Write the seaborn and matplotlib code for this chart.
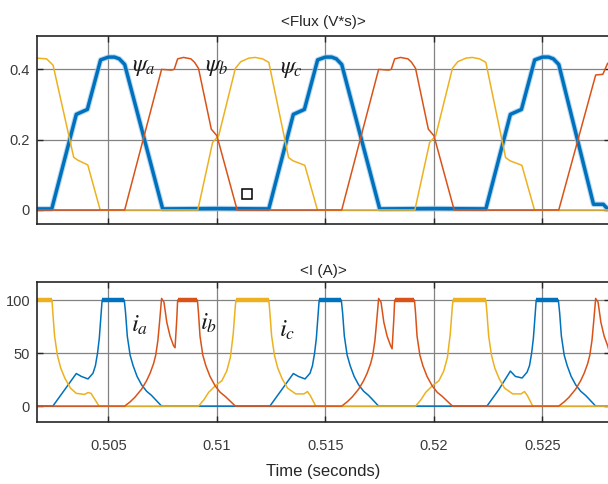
import numpy as np
import pandas as pd
import seaborn as sns
import matplotlib.pyplot as plt

# ---- flux (V*s) ----
psi_a_t = [0.50171, 0.50239, 0.50352, 0.50403, 0.50464, 0.50500, 0.50528, 0.50550, 0.50575, 0.50750,
           0.51000, 0.51239, 0.51352, 0.51403, 0.51464, 0.51500, 0.51528, 0.51550, 0.51575, 0.51750,
           0.52000, 0.52239, 0.52352, 0.52403, 0.52464, 0.52500, 0.52528, 0.52550, 0.52575, 0.52735,
           0.52780, 0.52800, 0.52830]
psi_a_v = [0.003, 0.003, 0.272, 0.286, 0.427, 0.435, 0.435, 0.430, 0.414, 0.003,
           0.004, 0.003, 0.272, 0.286, 0.427, 0.435, 0.435, 0.430, 0.414, 0.003,
           0.004, 0.003, 0.272, 0.286, 0.427, 0.435, 0.435, 0.430, 0.414, 0.016,
           0.016, 0.003, 0.003]

psi_c_t = [0.50171, 0.50215, 0.50245, 0.50340, 0.50358, 0.50405, 0.50462,
           0.50912, 0.50980, 0.51008, 0.51085, 0.51110, 0.51147, 0.51176, 0.51210, 0.51239,
           0.51330, 0.51350, 0.51405, 0.51463,
           0.51912, 0.51980, 0.52008, 0.52085, 0.52110, 0.52147, 0.52176, 0.52210, 0.52239,
           0.52330, 0.52350, 0.52405, 0.52463, 0.52830]
psi_c_v = [0.432, 0.430, 0.412, 0.150, 0.142, 0.128, 0.0,
           0.0, 0.192, 0.211, 0.403, 0.422, 0.432, 0.434, 0.430, 0.420,
           0.149, 0.140, 0.127, 0.0,
           0.0, 0.192, 0.211, 0.403, 0.422, 0.432, 0.434, 0.430, 0.420,
           0.149, 0.140, 0.127, 0.0, 0.0]

psi_b_t = [0.50171, 0.50575, 0.50745, 0.50790, 0.50803, 0.50819, 0.50846, 0.50880, 0.50897, 0.50915,
           0.50974, 0.51000, 0.51093,
           0.51575, 0.51745, 0.51790, 0.51803, 0.51819, 0.51846, 0.51880, 0.51897, 0.51915,
           0.51974, 0.52000, 0.52093,
           0.52575, 0.52745, 0.52778, 0.52800, 0.52830]
psi_b_v = [0.0, 0.0, 0.400, 0.398, 0.400, 0.430, 0.434, 0.430, 0.420, 0.403,
           0.230, 0.211, 0.0,
           0.0, 0.400, 0.398, 0.400, 0.430, 0.434, 0.430, 0.420, 0.403,
           0.230, 0.211, 0.0,
           0.0, 0.384, 0.386, 0.417, 0.430]

# ---- current (A) ----
i_a_t = [0.50171, 0.50244, 0.50298, 0.50352, 0.50375, 0.50406, 0.50429, 0.50440, 0.50450, 0.50458, 0.50466, 0.50471,
         0.50520, 0.50573, 0.50579, 0.50587, 0.50600, 0.50614, 0.50632, 0.50653, 0.50676, 0.50699, 0.50745,
         0.51244, 0.51298, 0.51352, 0.51375, 0.51406, 0.51429, 0.51440, 0.51450, 0.51458, 0.51466, 0.51471,
         0.51520, 0.51573, 0.51579, 0.51587, 0.51600, 0.51614, 0.51632, 0.51653, 0.51676, 0.51699, 0.51745,
         0.52244, 0.52298, 0.52352, 0.52375, 0.52406, 0.52429, 0.52440, 0.52450, 0.52458, 0.52466, 0.52471,
         0.52520, 0.52573, 0.52579, 0.52587, 0.52600, 0.52614, 0.52632, 0.52653, 0.52676, 0.52699, 0.52745,
         0.52830]
i_a_v = [0, 0, 15.3, 30.7, 28, 25.6, 31, 38, 50, 64, 86, 100,
         100, 100, 88, 66, 48, 38, 28, 20, 14, 10, 0,
         0, 15.3, 30.7, 28, 25.6, 31, 38, 50, 64, 86, 100,
         100, 100, 88, 66, 48, 38, 28, 20, 14, 10, 0,
         0, 15.3, 33, 28, 26.5, 32, 38, 50, 64, 86, 100,
         100, 100, 88, 66, 48, 38, 28, 20, 14, 10, 0,
         0]

i_b_t = [0.50171, 0.50575, 0.50600, 0.50622, 0.50653, 0.50676, 0.50692, 0.50708, 0.50718, 0.50728, 0.50736, 0.50745,
         0.50756, 0.50769, 0.50784, 0.50800, 0.50807, 0.50815, 0.50819, 0.50865, 0.50910, 0.50915, 0.50922,
         0.50935, 0.50949, 0.50968, 0.50992, 0.51015, 0.51039, 0.51085,
         0.51575, 0.51600, 0.51622, 0.51653, 0.51676, 0.51692, 0.51708, 0.51718, 0.51728, 0.51736, 0.51745,
         0.51756, 0.51769, 0.51784, 0.51800, 0.51807, 0.51815, 0.51819, 0.51865, 0.51910, 0.51915, 0.51922,
         0.51935, 0.51949, 0.51968, 0.51992, 0.52015, 0.52039, 0.52085,
         0.52575, 0.52600, 0.52622, 0.52653, 0.52676, 0.52692, 0.52708, 0.52718, 0.52728, 0.52736, 0.52745,
         0.52756, 0.52769, 0.52784, 0.52800, 0.52807, 0.52815]
i_b_v = [0, 0, 4, 8.3, 16, 24, 31, 40, 48, 62, 80, 101.5,
         98, 79, 66, 57, 55, 82, 100, 100, 100, 88, 66,
         48, 38, 28, 19, 13, 9, 0,
         0, 4, 8.3, 16, 24, 31, 40, 48, 62, 80, 101.5,
         98, 79, 66, 57, 54, 82, 100, 100, 100, 88, 66,
         48, 38, 28, 19, 13, 9, 0,
         0, 4, 8.3, 16, 24, 31, 40, 48, 62, 80, 101.5,
         98, 79, 66, 57, 52, 70]

i_c_t = [0.50171, 0.50205, 0.50240, 0.50244, 0.50252, 0.50265, 0.50280, 0.50300, 0.50325, 0.50352, 0.50390, 0.50406,
         0.50420, 0.50429, 0.50457,
         0.50915, 0.50940, 0.50962, 0.50992, 0.51023, 0.51045, 0.51062, 0.51075, 0.51085, 0.51088,
         0.51160, 0.51239, 0.51244, 0.51252, 0.51265, 0.51280, 0.51300, 0.51325, 0.51363, 0.51401, 0.51417,
         0.51430, 0.51455,
         0.51915, 0.51940, 0.51962, 0.51992, 0.52023, 0.52045, 0.52062, 0.52075, 0.52085, 0.52088,
         0.52160, 0.52239, 0.52244, 0.52252, 0.52265, 0.52280, 0.52300, 0.52325, 0.52363, 0.52401, 0.52417,
         0.52430, 0.52455,
         0.52830]
i_c_v = [100, 100, 100, 88, 66, 48, 36, 26, 17, 12, 11, 12.8,
         12, 9, 0,
         0, 6, 13, 19, 24, 33, 46, 68, 95, 100,
         100, 100, 88, 66, 48, 36, 26, 17, 11.5, 11.5, 13.7,
         10, 0,
         0, 6, 13, 19, 24, 33, 46, 68, 95, 100,
         100, 100, 88, 66, 48, 36, 26, 17, 11.5, 11.5, 13.7,
         10, 0,
         0]

x_ticks = [0.505, 0.51, 0.515, 0.52, 0.525]
x_tick_labels = ['0.505', '0.51', '0.515', '0.52', '0.525']
flux_ticks = [0, 0.2, 0.4]
flux_tick_labels = ['0', '0.2', '0.4']
cur_ticks = [0, 50, 100]
cur_tick_labels = ['0', '50', '100']

square_t = [0.51137]
square_v = [0.044]

BLUE = '#0072BD'
RED = '#D95319'
YELLOW = '#EDB120'

sns.set_theme(style='white')
plt.rcParams['font.family'] = ['Liberation Sans', 'DejaVu Sans']
plt.rcParams['mathtext.fontset'] = 'stix'

fig = plt.figure(figsize=(6.08, 4.84), dpi=100)
ax1 = fig.add_axes([37 / 608, 1 - 224 / 484, 573 / 608, 188 / 484])
ax2 = fig.add_axes([37 / 608, 1 - 422 / 484, 573 / 608, 140 / 484])


def style_axes(ax, yticks, ylabels, ylim, show_x):
    ax.set_xlim(0.50171, 0.52811)
    ax.set_ylim(*ylim)
    ax.set_xticks(x_ticks)
    ax.set_yticks(yticks)
    ax.set_yticklabels(ylabels)
    if show_x:
        ax.set_xticklabels(x_tick_labels)
    else:
        ax.set_xticklabels([])
    ax.grid(True, color='#828282', lw=0.9)
    ax.set_axisbelow(True)
    for s in ax.spines.values():
        s.set_color('#262626')
        s.set_linewidth(1.2)
        s.set_visible(True)
    ax.tick_params(direction='in', length=4, width=1, color='#262626',
                   labelsize=10.5, labelcolor='#3a3a3a', top=True, right=True,
                   left=True, bottom=True, pad=5)
    ax.tick_params(axis='x', pad=12)
    ax.set_xlabel('')
    ax.set_ylabel('')


# soft halo under the thick flux line
ax1.plot(psi_a_t, psi_a_v, color='#9cc8ec', lw=4.0, alpha=0.7)
flux = [(psi_a_t, psi_a_v, BLUE, 2.5), (psi_c_t, psi_c_v, YELLOW, 1.1), (psi_b_t, psi_b_v, RED, 1.1)]
for t, v, c, w in flux:
    sns.lineplot(x=t, y=v, ax=ax1, color=c, lw=w, estimator=None, sort=False)
ax1.plot(square_t, square_v, marker='s', ms=7, mfc='white', mec='black', mew=1.1, ls='none')

cur = [(i_a_t, i_a_v, BLUE), (i_c_t, i_c_v, YELLOW), (i_b_t, i_b_v, RED)]
for t, v, c in cur:
    sns.lineplot(x=t, y=v, ax=ax2, color=c, lw=1.1, estimator=None, sort=False)
    # noisy flat tops drawn as a thicker band
    vv = np.array(v, dtype=float)
    band = np.where(np.isclose(vv, 100), vv, np.nan)
    ax2.plot(t, band, color=c, lw=3.2, solid_capstyle='butt')

style_axes(ax1, flux_ticks, flux_tick_labels, (-0.04, 0.495), False)
style_axes(ax2, cur_ticks, cur_tick_labels, (-15, 117), True)

ax1.set_title('<Flux (V*s)>', fontsize=11, color='#262626', pad=7)
ax2.set_title('<I (A)>', fontsize=11, color='#262626', pad=5)
ax2.set_xlabel('Time (seconds)', fontsize=12, color='#262626', labelpad=8)

for txt, xt, yv in [(r'$\psi_a$', 0.50662, 0.408), (r'$\psi_b$', 0.51000, 0.408), (r'$\psi_c$', 0.51343, 0.402)]:
    ax1.text(xt, yv, txt, fontsize=17, color='#1a1a1a', ha='center', va='center')
for txt, xt, yv in [(r'$i_a$', 0.50644, 76), (r'$i_b$', 0.50963, 78), (r'$i_c$', 0.51324, 72)]:
    ax2.text(xt, yv, txt, fontsize=18, color='#1a1a1a', ha='center', va='center')

fig.savefig('out.png', dpi=100)
